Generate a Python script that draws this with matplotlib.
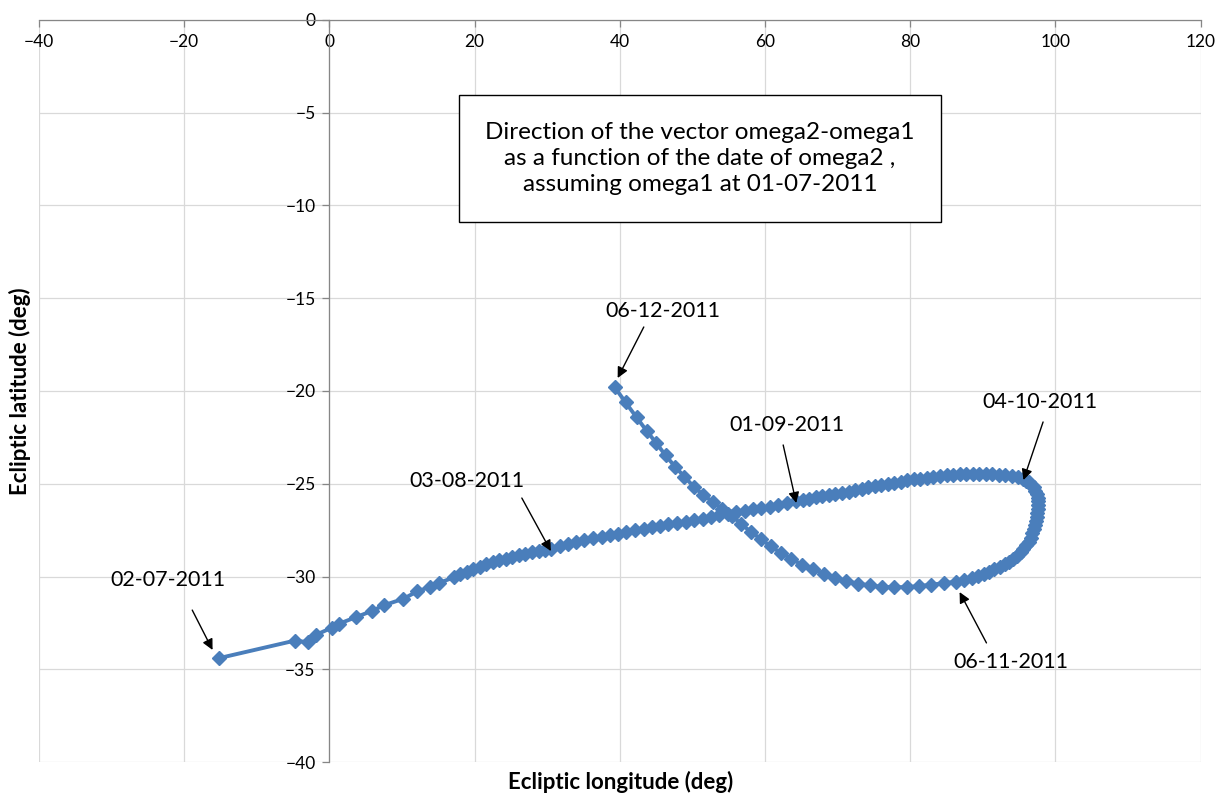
import numpy as np
import matplotlib
matplotlib.use("Agg")
import matplotlib.pyplot as plt
from matplotlib.patches import Rectangle

plt.rcParams['font.family'] = ['Lato', 'DejaVu Sans']

# Direction of omega2-omega1 (ecliptic longitude / latitude, deg), one point per date of omega2
lon = [-15.2, -4.7, -2.9, -1.9, 0.4, 1.3, 3.6, 5.9, 7.5, 10.2, 12.1, 13.9, 15.1, 17.1,
       18.0, 18.9, 19.8, 20.7, 21.6, 22.5, 23.4, 24.3, 25.2, 26.1, 27.0, 27.9, 28.8, 29.7,
       30.5, 31.7, 32.8, 34.0, 35.1, 36.3, 37.5, 38.6, 39.8, 40.9, 42.1, 43.3, 44.4, 45.6,
       46.7, 47.9, 49.1, 50.2, 51.4, 52.5, 53.7, 54.9, 56.0, 57.2, 58.3, 59.5, 60.7, 61.8,
       63.0, 64.3,
       65.2, 66.1, 67.0, 67.9, 68.8, 69.7, 70.6, 71.5, 72.4, 73.3, 74.2, 75.1, 76.0, 76.9,
       77.8, 78.7, 79.6, 80.5, 81.4, 82.3, 83.2, 84.1, 85.0, 85.9, 86.8, 87.7, 88.6, 89.5,
       90.4, 91.3, 92.2, 93.1, 94.0, 94.8,
       95.5, 95.9, 96.3, 96.7, 97.0, 97.25, 97.45, 97.55, 97.6, 97.6, 97.55, 97.5, 97.4,
       97.3, 97.15, 97.0, 96.8, 96.6, 96.3, 96.0, 95.6, 95.2, 94.7, 94.2, 93.6, 93.0, 92.3,
       91.6, 90.9, 90.1, 89.3, 88.5, 87.4, 86.3,
       84.6, 82.9, 81.2, 79.5, 77.8, 76.1, 74.4, 72.8, 71.2, 69.6, 68.1, 66.6, 65.1, 63.6,
       62.2, 60.8, 59.4, 58.0, 56.7, 55.4, 54.1, 52.8, 51.5, 50.2, 48.9, 47.6, 46.3, 45.0,
       43.7, 42.3, 40.8, 39.3]
lat = [-34.4, -33.45, -33.55, -33.15, -32.75, -32.55, -32.2, -31.85, -31.55, -31.2, -30.8, -30.55, -30.35, -30.05,
       -29.88, -29.74, -29.6, -29.47, -29.35, -29.24, -29.13, -29.03, -28.93, -28.84, -28.76, -28.69, -28.62, -28.56,
       -28.5, -28.38, -28.27, -28.16, -28.05, -27.95, -27.85, -27.77, -27.69, -27.61, -27.52, -27.43, -27.35, -27.27,
       -27.19, -27.12, -27.05, -26.98, -26.9, -26.81, -26.71, -26.61, -26.53, -26.45, -26.38, -26.31, -26.24, -26.16,
       -26.06, -25.95,
       -25.87, -25.81, -25.74, -25.68, -25.62, -25.56, -25.5, -25.43, -25.35, -25.27, -25.2, -25.13, -25.07, -25.0,
       -24.94, -24.88, -24.82, -24.77, -24.72, -24.67, -24.63, -24.59, -24.55, -24.52, -24.49, -24.47, -24.46, -24.46,
       -24.47, -24.49, -24.51, -24.55, -24.6, -24.66,
       -24.75, -24.83, -24.93, -25.05, -25.2, -25.37, -25.55, -25.75, -25.95, -26.15, -26.35, -26.55, -26.78,
       -27.0, -27.22, -27.45, -27.68, -27.9, -28.12, -28.32, -28.52, -28.7, -28.88, -29.04, -29.2, -29.35, -29.5,
       -29.62, -29.74, -29.86, -29.97, -30.07, -30.17, -30.28,
       -30.36, -30.44, -30.52, -30.57, -30.58, -30.56, -30.48, -30.38, -30.25, -30.08, -29.85, -29.6, -29.38, -29.03,
       -28.73, -28.38, -27.97, -27.58, -27.16, -26.72, -26.35, -25.98, -25.6, -25.17, -24.62, -24.08, -23.47, -22.8,
       -22.15, -21.42, -20.62, -19.8]

# Date labels: text position, arrow start, arrow tip
dates = ['02-07-2011', '03-08-2011', '01-09-2011', '04-10-2011', '06-11-2011', '06-12-2011']
text_xy = [(-22.2, -30.19), (19.0, -24.85), (63.0, -21.83), (97.8, -20.59), (93.9, -34.61), (45.9, -15.69)]
arrow_from = [(-18.9, -31.81), (26.5, -25.77), (62.5, -22.91), (98.3, -21.67), (90.5, -33.58), (43.3, -16.55)]
arrow_to = [(-16.1, -33.96), (30.5, -28.63), (64.3, -26.04), (95.6, -24.8), (86.8, -30.84), (39.7, -19.3)]

box_text = ('Direction of the vector omega2-omega1\n'
            'as a function of the date of omega2 ,\n'
            'assuming omega1 at 01-07-2011')

fig = plt.figure(figsize=(12.28, 7.96), dpi=100)
ax = fig.add_axes([0.0318, 0.0427, 0.9459, 0.9322])

ax.set_xlim(-40, 120)
ax.set_ylim(-40, 0)
ax.set_xticks(np.arange(-40, 121, 20))
ax.set_yticks(np.arange(-40, 1, 5))
ax.grid(True, color='#d9d9d9', lw=0.9)
ax.set_axisbelow(True)

# axes cross at the origin, like a spreadsheet chart
for s in ['top', 'right']:
    ax.spines[s].set_visible(False)
ax.spines['left'].set_position(('data', 0))
ax.spines['bottom'].set_position(('data', 0))
for s in ['left', 'bottom']:
    ax.spines[s].set_color('#868686')
    ax.spines[s].set_linewidth(0.9)
    ax.spines[s].set_zorder(2)
ax.tick_params(direction='out', length=5, width=0.9, color='#868686',
               labelsize=12.5, labelcolor='black', pad=5)

ax.plot(lon, lat, color='#4A7EBB', lw=2.8, marker='D', ms=7, zorder=3)

for d, t, a0, a1 in zip(dates, text_xy, arrow_from, arrow_to):
    ax.text(t[0], t[1], d, ha='center', va='center', fontsize=15.5, zorder=5)
    ax.annotate('', xy=a1, xytext=a0,
                arrowprops=dict(arrowstyle='-|>', color='black', lw=1.0,
                                mutation_scale=16, shrinkA=0, shrinkB=0), zorder=5)

ax.add_patch(Rectangle((17.8, -10.89), 66.5, 6.85, facecolor='white',
                       edgecolor='black', lw=1.0, zorder=4))
ax.text(51.05, -7.45, box_text, ha='center', va='center', fontsize=17.5,
        linespacing=1.3, zorder=5)

fig.text(0.505, 0.018, 'Ecliptic longitude (deg)', ha='center', va='center',
         fontsize=16, fontweight='bold')
fig.text(0.016, 0.509, 'Ecliptic latitude (deg)', ha='center', va='center',
         rotation=90, fontsize=16, fontweight='bold')

fig.savefig('out.png', dpi=100)
